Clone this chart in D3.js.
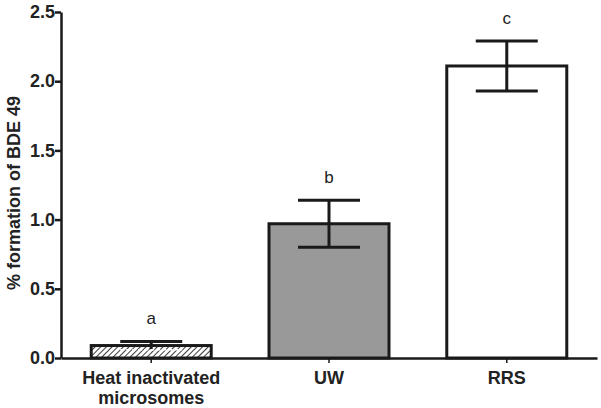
<!DOCTYPE html>
<html>
<head>
<meta charset="utf-8">
<script src="https://cdn.jsdelivr.net/npm/d3@7"></script>
<style>
  body { margin: 0; background: #fff; }
  svg { display: block; font-family: Arial, "Liberation Sans", sans-serif; }
</style>
</head>
<body>
<svg id="chart" width="601" height="408"></svg>
<script>
const groups = ['Heat inactivated microsomes', 'UW', 'RRS'];
const groupLines = [['Heat inactivated', 'microsomes'], ['UW'], ['RRS']];
const means = [0.09, 0.97, 2.11];
const sems = [0.03, 0.17, 0.18];
const letters = ['a', 'b', 'c'];
const fills = ['url(#hatch)', '#999999', '#ffffff'];
const yTicks = [0, 0.5, 1.0, 1.5, 2.0, 2.5];

const svg = d3.select('#chart');
const margin = { top: 12, right: 4, bottom: 50, left: 61 };
const width = 601;
const height = 408;

// hatch pattern for the heat inactivated bar
const defs = svg.append('defs');
const pat = defs.append('pattern')
  .attr('id', 'hatch')
  .attr('patternUnits', 'userSpaceOnUse')
  .attr('width', 4)
  .attr('height', 4)
  .attr('patternTransform', 'rotate(45)');
pat.append('rect').attr('width', 4).attr('height', 4).attr('fill', '#fff');
pat.append('line')
  .attr('x1', 0).attr('y1', 0).attr('x2', 0).attr('y2', 4)
  .attr('stroke', '#222').attr('stroke-width', 1.8);

const x = d3.scaleBand()
  .domain(groups)
  .range([margin.left, width - margin.right])
  .paddingInner(0.325)
  .paddingOuter(0.17);

const y = d3.scaleLinear()
  .domain([0, 2.5])
  .range([height - margin.bottom, margin.top]);

// bars
svg.append('g')
  .selectAll('rect')
  .data(groups)
  .enter()
  .append('rect')
  .attr('x', (d) => x(d))
  .attr('y', (d, i) => y(means[i]))
  .attr('width', x.bandwidth())
  .attr('height', (d, i) => y(0) - y(means[i]))
  .attr('fill', (d, i) => fills[i])
  .attr('stroke', '#1a1a1a')
  .attr('stroke-width', 3);

// error bars
const capW = 62;
const err = svg.append('g').attr('stroke', '#1a1a1a').attr('stroke-width', 3);
groups.forEach((g, i) => {
  const cx = x(g) + x.bandwidth() / 2;
  const hi = y(means[i] + sems[i]);
  const lo = y(means[i] - sems[i]);
  err.append('line').attr('x1', cx).attr('x2', cx).attr('y1', hi).attr('y2', lo);
  err.append('line').attr('x1', cx - capW / 2).attr('x2', cx + capW / 2).attr('y1', hi).attr('y2', hi);
  err.append('line').attr('x1', cx - capW / 2).attr('x2', cx + capW / 2).attr('y1', lo).attr('y2', lo)
    .attr('stroke', i === 0 ? '#fff' : '#1a1a1a')
    .attr('stroke-dasharray', i === 0 ? '4,2' : null)
    .attr('stroke-width', i === 0 ? 1.5 : 3);
});

// significance letters
svg.append('g')
  .selectAll('text')
  .data(groups)
  .enter()
  .append('text')
  .attr('x', (d) => x(d) + x.bandwidth() / 2)
  .attr('y', (d, i) => y(means[i] + sems[i]) - 17)
  .attr('text-anchor', 'middle')
  .attr('font-size', 17)
  .attr('fill', '#222')
  .text((d, i) => letters[i]);

// y axis
const yAxis = svg.append('g')
  .attr('transform', `translate(${margin.left},0)`)
  .call(d3.axisLeft(y).tickValues(yTicks).tickFormat(d3.format('.1f')).tickSize(6).tickSizeOuter(0));
yAxis.select('.domain').attr('stroke', '#1a1a1a').attr('stroke-width', 2.5);
yAxis.selectAll('.tick line').attr('stroke', '#1a1a1a').attr('stroke-width', 2.5);
yAxis.selectAll('.tick text')
  .attr('x', -6)
  .attr('font-size', 18)
  .attr('font-weight', 'bold')
  .attr('fill', '#222');

// x axis
const xAxis = svg.append('g')
  .attr('transform', `translate(0,${y(0)})`)
  .call(d3.axisBottom(x).tickSize(5).tickSizeOuter(0).tickFormat(''));
xAxis.select('.domain').attr('stroke', '#1a1a1a').attr('stroke-width', 2.5);
xAxis.selectAll('.tick line').attr('stroke', '#1a1a1a').attr('stroke-width', 1.5);

const xl = svg.append('g');
groups.forEach((g, i) => {
  const t = xl.append('text')
    .attr('x', x(g) + x.bandwidth() / 2)
    .attr('y', y(0) + 26)
    .attr('text-anchor', 'middle')
    .attr('font-size', 18)
    .attr('font-weight', 'bold')
    .attr('fill', '#222');
  groupLines[i].forEach((line, j) => {
    t.append('tspan')
      .attr('x', x(g) + x.bandwidth() / 2)
      .attr('dy', j === 0 ? 0 : 20)
      .text(line);
  });
});

// y label
svg.append('text')
  .attr('transform', 'rotate(-90)')
  .attr('x', -193)
  .attr('y', 20)
  .attr('text-anchor', 'middle')
  .attr('font-size', 18)
  .attr('font-weight', 'bold')
  .attr('fill', '#222')
  .text('% formation of BDE 49');
</script>
</body>
</html>
